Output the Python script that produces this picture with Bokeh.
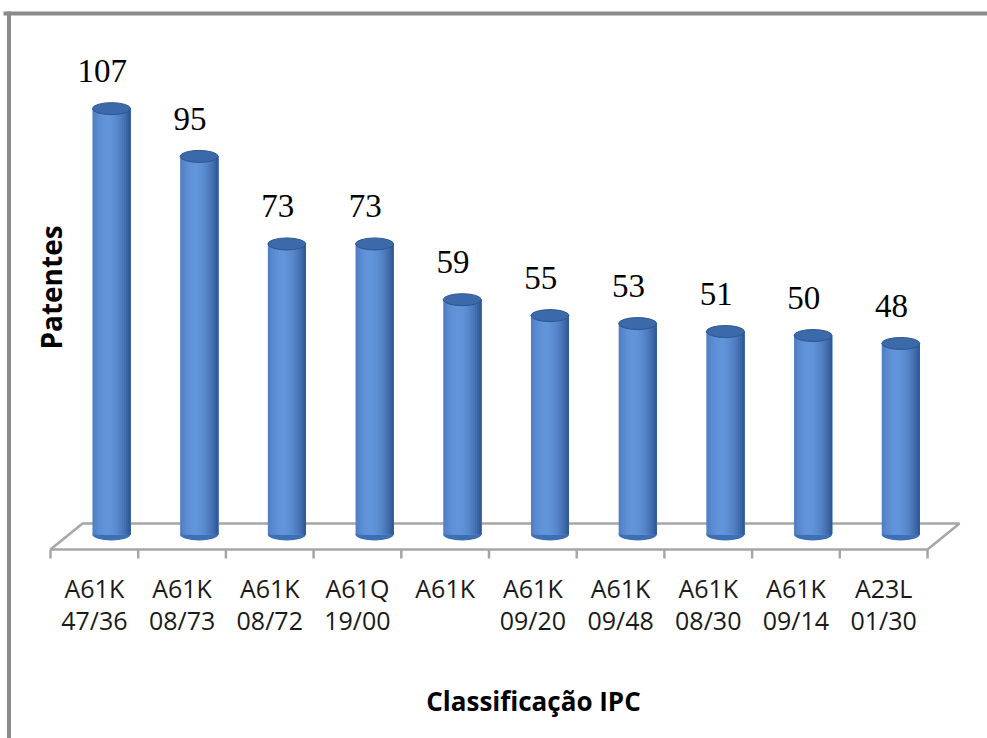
import numpy as np
from bokeh.plotting import figure
from bokeh.models import Range1d
from bokeh.core.properties import value
from bokeh.embed import file_html
from bokeh.resources import INLINE

# ---- data ----
cat_line1 = ["A61K", "A61K", "A61K", "A61Q", "A61K", "A61K", "A61K", "A61K", "A61K", "A23L"]
cat_line2 = ["47/36", "08/73", "08/72", "19/00", "", "09/20", "09/48", "08/30", "09/14", "01/30"]
patentes = [107, 95, 73, 73, 59, 55, 53, 51, 50, 48]
x_title = "Classificação IPC"
y_title = "Patentes"

W, H = 987, 738
# pixel <-> data helpers (layout only)
X0, XS = 93.85, 87.7   # pixel of category 0 centre, pixels per category
Y0, YS = 534.0, 3.98   # pixel of value 0, pixels per unit


def xi(px):
    return (px - X0) / XS


def yv(py):
    return (Y0 - py) / YS


n = len(patentes)
idx = np.arange(n)
vals = np.array(patentes, dtype=float)

p = figure(width=W, height=H, output_backend="svg", toolbar_location=None,
           x_range=Range1d(xi(0), xi(W)), y_range=Range1d(yv(H), yv(0)),
           min_border=0, background_fill_color="white", border_fill_color="white")
p.axis.visible = False
p.grid.visible = False
p.outline_line_color = None

# ---- frame lines ----
p.segment(x0=[xi(3)], y0=[yv(13)], x1=[xi(W + 5)], y1=[yv(13)], line_color="#8a8a8a", line_width=4)
p.segment(x0=[xi(8.5)], y0=[yv(11)], x1=[xi(8.5)], y1=[yv(H + 5)], line_color="#8a8a8a", line_width=4)

# ---- 3D floor ----
depth_x = 32 / XS
front_y = yv(549)
back_y = yv(523)
floor_x = [-0.5, n - 0.5, n - 0.5 + depth_x, -0.5 + depth_x]
floor_y = [front_y, front_y, back_y, back_y]
p.patch(floor_x, floor_y, fill_color="white", line_color="#a6a6a6", line_width=2.5)
tick_x = np.arange(n + 1) - 0.5
p.segment(x0=tick_x, y0=[front_y] * (n + 1), x1=tick_x, y1=[yv(558)] * (n + 1),
          line_color="#a6a6a6", line_width=2.5)

# ---- cylinders ----
bar_off = 0.195
bar_w = 38 / XS
ell_h = 12 / YS
bx = idx + bar_off

p.ellipse(x=bx, y=np.zeros(n), width=bar_w, height=ell_h, fill_color="#3c6fb4", line_color=None)

NS = 18
dark = np.array([38, 76, 136])
light = np.array([98, 148, 218])
for k in range(NS):
    t = (k + 0.5) / NS
    f = max(0.0, 1 - ((t - 0.38) / 0.66) ** 2)
    c = dark + (light - dark) * f
    col = "#%02x%02x%02x" % tuple(int(round(v)) for v in c)
    left = bx - bar_w / 2 + k * bar_w / NS
    p.quad(left=left, right=bx + bar_w / 2, bottom=np.zeros(n), top=vals,
           fill_color=col, line_color=None)

p.ellipse(x=bx, y=vals, width=bar_w, height=ell_h, fill_color="#3b69a9",
          line_color="#2d5690", line_width=1)

# ---- value labels ----
p.text(x=idx + 0.09, y=vals + 9.5, text=[str(v) for v in patentes],
       text_font=value("Liberation Serif"), text_font_size="33px", text_color="black",
       text_align="center", text_baseline="alphabetic")

# ---- category labels ----
p.text(x=idx, y=[yv(587)] * n, text=cat_line1, text_font=value("Open Sans"),
       text_font_size="25px", text_color="#1a1a1a", text_align="center", text_baseline="alphabetic")
p.text(x=idx, y=[yv(619)] * n, text=cat_line2, text_font=value("Open Sans"),
       text_font_size="25px", text_color="#1a1a1a", text_align="center", text_baseline="alphabetic")

# ---- axis titles ----
p.text(x=[xi(533)], y=[yv(700)], text=[x_title], text_font=value("Open Sans"),
       text_font_style="bold", text_font_size="26px", text_color="black",
       text_align="center", text_baseline="alphabetic")
p.text(x=[xi(50)], y=[yv(287)], text=[y_title], text_font=value("Open Sans"),
       text_font_style="bold", text_font_size="28px", text_color="black",
       text_align="center", text_baseline="alphabetic", angle=np.pi / 2)

open("out.html", "w").write(file_html(p, INLINE))
